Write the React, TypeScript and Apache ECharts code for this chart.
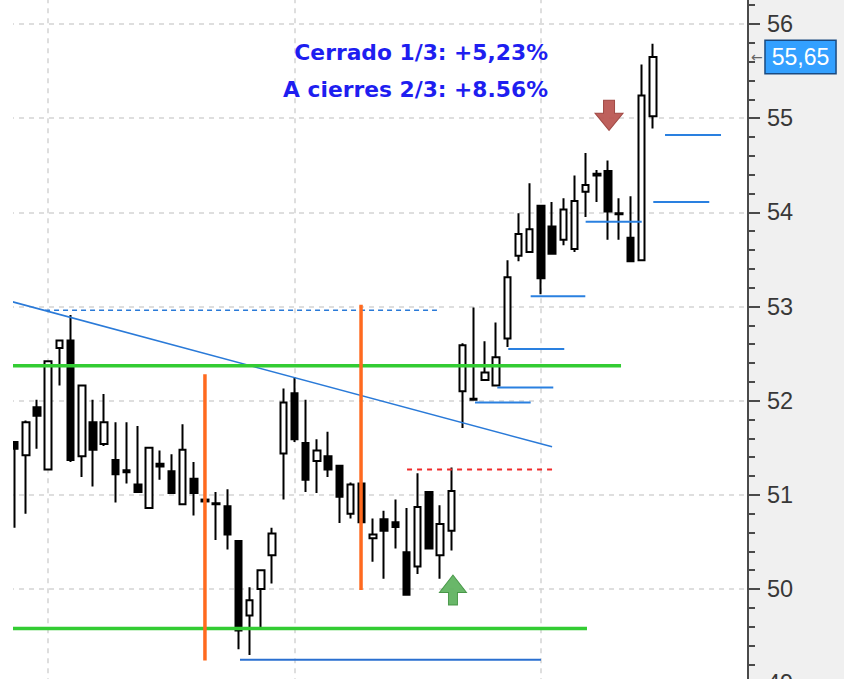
import React, { useEffect, useRef } from "react";
import * as echarts from "echarts";

// ---------- data ----------
const SLOTS = 66;
const categories: string[] = Array.from({ length: SLOTS }, (_, i) => String(i + 1));

// [open, close, low, high]
const candles: number[][] = [
  [51.56, 51.49, 50.65, 51.57],
  [51.42, 51.77, 50.8, 51.79],
  [51.93, 51.84, 51.49, 52.01],
  [51.27, 52.42, 51.26, 52.43],
  [52.56, 52.64, 52.16, 52.64],
  [52.64, 51.37, 51.35, 52.91],
  [51.41, 52.16, 51.19, 52.17],
  [51.77, 51.48, 51.09, 52.01],
  [51.54, 51.77, 51.52, 52.07],
  [51.37, 51.22, 50.92, 51.77],
  [51.26, 51.24, 51.12, 51.77],
  [51.11, 51.03, 51.03, 51.73],
  [50.86, 51.5, 50.86, 51.5],
  [51.33, 51.3, 51.16, 51.47],
  [51.25, 51.02, 51.02, 51.43],
  [50.9, 51.48, 50.9, 51.75],
  [51.17, 51.02, 50.78, 51.35],
  [50.95, 50.93, 50.93, 50.95],
  [50.9, 50.91, 50.52, 51.03],
  [50.88, 50.58, 50.42, 51.06],
  [50.51, 49.56, 49.36, 50.51],
  [49.72, 49.88, 49.3, 50.02],
  [50.0, 50.2, 49.58, 50.2],
  [50.36, 50.59, 50.06, 50.65],
  [51.44, 51.98, 50.95, 52.13],
  [52.08, 51.59, 51.56, 52.25],
  [51.55, 51.16, 51.03, 52.01],
  [51.36, 51.47, 51.02, 51.59],
  [51.41, 51.27, 51.19, 51.67],
  [51.31, 50.98, 50.7, 51.31],
  [50.8, 51.11, 50.75, 51.13],
  [51.12, 50.71, 50.71, 51.12],
  [50.54, 50.58, 50.29, 50.75],
  [50.74, 50.62, 50.11, 50.83],
  [50.71, 50.66, 50.43, 50.95],
  [50.39, 49.94, 49.94, 50.86],
  [50.24, 50.87, 50.16, 51.23],
  [51.03, 50.43, 50.42, 51.03],
  [50.36, 50.69, 50.11, 50.89],
  [50.62, 51.04, 50.41, 51.29],
  [52.1, 52.59, 51.71, 52.61],
  [52.01, 52.02, 52.0, 52.99],
  [52.22, 52.3, 52.22, 52.63],
  [52.16, 52.46, 52.16, 52.83],
  [52.66, 53.31, 52.57, 53.49],
  [53.54, 53.77, 53.48, 53.99],
  [53.58, 53.82, 53.58, 54.31],
  [54.07, 53.3, 53.13, 54.07],
  [53.85, 53.56, 53.56, 54.11],
  [53.71, 54.03, 53.65, 54.15],
  [53.61, 54.12, 53.58, 54.39],
  [54.22, 54.29, 53.95, 54.63],
  [54.41, 54.39, 54.11, 54.45],
  [54.44, 54.01, 53.71, 54.55],
  [53.99, 53.98, 53.71, 54.15],
  [53.73, 53.48, 53.48, 54.17],
  [53.49, 55.24, 53.49, 55.57],
  [55.02, 55.65, 54.89, 55.79],
];

const lastPrice = 55.65;
const lastPriceLabel = "55,65";

// horizontal levels: [xStart, xEnd, price]
const greenLevels: number[][] = [
  [-0.5, 54.16, 52.37],
  [-0.5, 51.12, 49.58],
];
// vertical markers: [x, priceTop, priceBottom]
const orangeVerticals: number[][] = [
  [17.0, 52.28, 49.24],
  [30.94, 53.02, 49.99],
];
// trend line: [x, price] points
const trendLine: number[][] = [
  [-0.5, 53.06],
  [48.0, 51.51],
];
const blueDashedLevel: number[] = [2.72, 37.72, 52.96];
const redDashedLevel: number[] = [35.05, 48.08, 51.27];
const blueBottomLevel: number[] = [20.13, 47.01, 49.25];
const stopLevels: number[][] = [
  [41.12, 46.09, 51.98],
  [43.11, 48.11, 52.14],
  [44.09, 49.09, 52.55],
  [46.09, 50.97, 53.11],
  [51.0, 56.01, 53.9],
  [57.04, 62.04, 54.11],
  [58.09, 63.09, 54.82],
];
const buySignal: number[] = [39.15, 49.99];
const sellSignal: number[] = [53.09, 55.03];
const monthStarts: number[] = [3, 25, 47];
const yTicks = { min: 49, max: 57, step: 1 };

const textLines: string[] = ["Cerrado 1/3: +5,23%", "A cierres 2/3: +8.56%"];

// ---------- helpers ----------
function seg(points: any[], color: string, width: number, dash?: any, z = 4): any {
  return {
    type: "line",
    xAxisIndex: 1,
    yAxisIndex: 0,
    data: points,
    symbol: "none",
    showSymbol: false,
    silent: true,
    z,
    lineStyle: { color, width, type: dash || "solid", cap: "butt" },
  };
}

function hLevel(l: number[], color: string, width: number, dash?: any, z = 4) {
  return seg(
    [
      [l[0], l[2]],
      [l[1], l[2]],
    ],
    color,
    width,
    dash,
    z
  );
}

const UP_ARROW = "path://M13.5,0L27,17.5L18,17.5L18,30L9,30L9,17.5L0,17.5Z";
const DOWN_ARROW = "path://M8.5,0L19.5,0L19.5,13L28,13L14,30L0,13L8.5,13Z";

export default function App() {
  const ref = useRef<HTMLDivElement>(null);

  useEffect(() => {
    if (!ref.current) return;
    const chart = echarts.init(ref.current, null, { renderer: "svg" });

    const series: any[] = [];

    const dashedSeries = hLevel(blueDashedLevel, "#2a7ad8", 1.6, [5, 4], 4);
    dashedSeries.markLine = {
      silent: true,
      symbol: "none",
      z: 1,
      label: { show: false },
      lineStyle: { color: "#d4d4d4", type: [5, 5], width: 1.5 },
      data: monthStarts.map((x) => ({ xAxis: x })),
    };
    series.push(dashedSeries);

    series.push({
      type: "candlestick",
      xAxisIndex: 0,
      yAxisIndex: 0,
      data: candles,
      barWidth: 7,
      z: 3,
      itemStyle: {
        color: "#ffffff",
        color0: "#000000",
        borderColor: "#000000",
        borderColor0: "#000000",
        borderWidth: 2,
      },
      markLine: {
        silent: true,
        symbol: "none",
        z: 6,
        lineStyle: { color: "rgba(0,0,0,0)", width: 0 },
        label: {
          show: true,
          position: "end",
          distance: 3,
          formatter: "{a|←}{b|" + lastPriceLabel + "}",
          rich: {
            a: {
              color: "#666666",
              fontSize: 14,
              fontFamily: "DejaVu Sans",
              padding: [0, 3, 0, 0],
            },
            b: {
              color: "#ffffff",
              fontSize: 23,
              fontFamily: "Liberation Sans",
              backgroundColor: "#33a0ff",
              borderColor: "#1a4a80",
              borderWidth: 1.5,
              lineHeight: 25,
              padding: [5, 6, 4, 6],
            },
          },
        },
        data: [{ yAxis: lastPrice }],
      },
    });

    series.push(seg(trendLine, "#2a7ad8", 1.6, "solid", 4));
    series.push(hLevel(redDashedLevel, "#f02a2a", 1.9, [5, 5], 4));
    series.push(hLevel(blueBottomLevel, "#2a6fd0", 2, "solid", 4));
    stopLevels.forEach((l) => series.push(hLevel(l, "#2a80e0", 2, "solid", 4)));
    greenLevels.forEach((l) => series.push(hLevel(l, "#33cc33", 3.5, "solid", 5)));
    orangeVerticals.forEach((v) =>
      series.push(
        seg(
          [
            [v[0], v[1]],
            [v[0], v[2]],
          ],
          "#ff6a1f",
          3.5,
          "solid",
          5
        )
      )
    );

    series.push({
      type: "scatter",
      xAxisIndex: 1,
      yAxisIndex: 0,
      data: [buySignal],
      symbol: UP_ARROW,
      symbolSize: [27, 30],
      silent: true,
      z: 7,
      itemStyle: { color: "#5cb15c", borderColor: "#3f913f", borderWidth: 1, opacity: 0.92 },
    });
    series.push({
      type: "scatter",
      xAxisIndex: 1,
      yAxisIndex: 0,
      data: [sellSignal],
      symbol: DOWN_ARROW,
      symbolSize: [28, 30],
      silent: true,
      z: 7,
      itemStyle: { color: "#b9534e", borderColor: "#9a3f3a", borderWidth: 1, opacity: 0.92 },
    });

    const option: any = {
      animation: false,
      backgroundColor: "#ffffff",
      grid: {
        left: 9,
        right: 96,
        top: -70.17,
        bottom: -4.2,
        containLabel: false,
        outerBoundsMode: "none",
      },
      xAxis: [
        { type: "category", data: categories, boundaryGap: true, show: false },
        { type: "value", min: -0.5, max: SLOTS - 0.5, show: false },
      ],
      yAxis: {
        type: "value",
        position: "right",
        min: yTicks.min,
        max: yTicks.max,
        interval: yTicks.step,
        axisLine: { show: true, onZero: false, lineStyle: { color: "#4a4a4a", width: 2 } },
        axisTick: { show: true, length: 12, lineStyle: { color: "#4a4a4a", width: 2 } },
        minorTick: { show: true, splitNumber: 5, length: 7, lineStyle: { color: "#4a4a4a", width: 2 } },
        axisLabel: {
          margin: 19,
          color: "#383838",
          fontSize: 23.5,
          fontFamily: "Liberation Sans",
          showMaxLabel: false,
          formatter: (v: number) => String(v),
        },
        splitLine: { show: true, lineStyle: { color: "#d4d4d4", type: [5, 5], width: 1.5 } },
      },
      graphic: [
        {
          type: "rect",
          z: -10,
          silent: true,
          shape: { x: 748, y: 0, width: 96, height: 679 },
          style: { fill: "#f0f0f0" },
        },
        {
          type: "rect",
          z: 100,
          silent: true,
          shape: { x: 0, y: 0, width: 13, height: 679 },
          style: { fill: "#ffffff" },
        },
        {
          type: "text",
          z: 100,
          x: 548,
          y: 52,
          style: {
            text: textLines[0],
            align: "right",
            verticalAlign: "middle",
            fontSize: 21.8,
            fontWeight: "bold",
            fontFamily: "DejaVu Sans",
            fill: "#1e1ef0",
          },
        },
        {
          type: "text",
          z: 100,
          x: 548,
          y: 89,
          style: {
            text: textLines[1],
            align: "right",
            verticalAlign: "middle",
            fontSize: 21.8,
            fontWeight: "bold",
            fontFamily: "DejaVu Sans",
            fill: "#1e1ef0",
          },
        },
      ],
      series,
    };

    chart.setOption(option);
    return () => chart.dispose();
  }, []);

  return (
    <div
      ref={ref}
      style={{ position: "absolute", left: 0, top: 0, width: 844, height: 679 }}
    />
  );
}
